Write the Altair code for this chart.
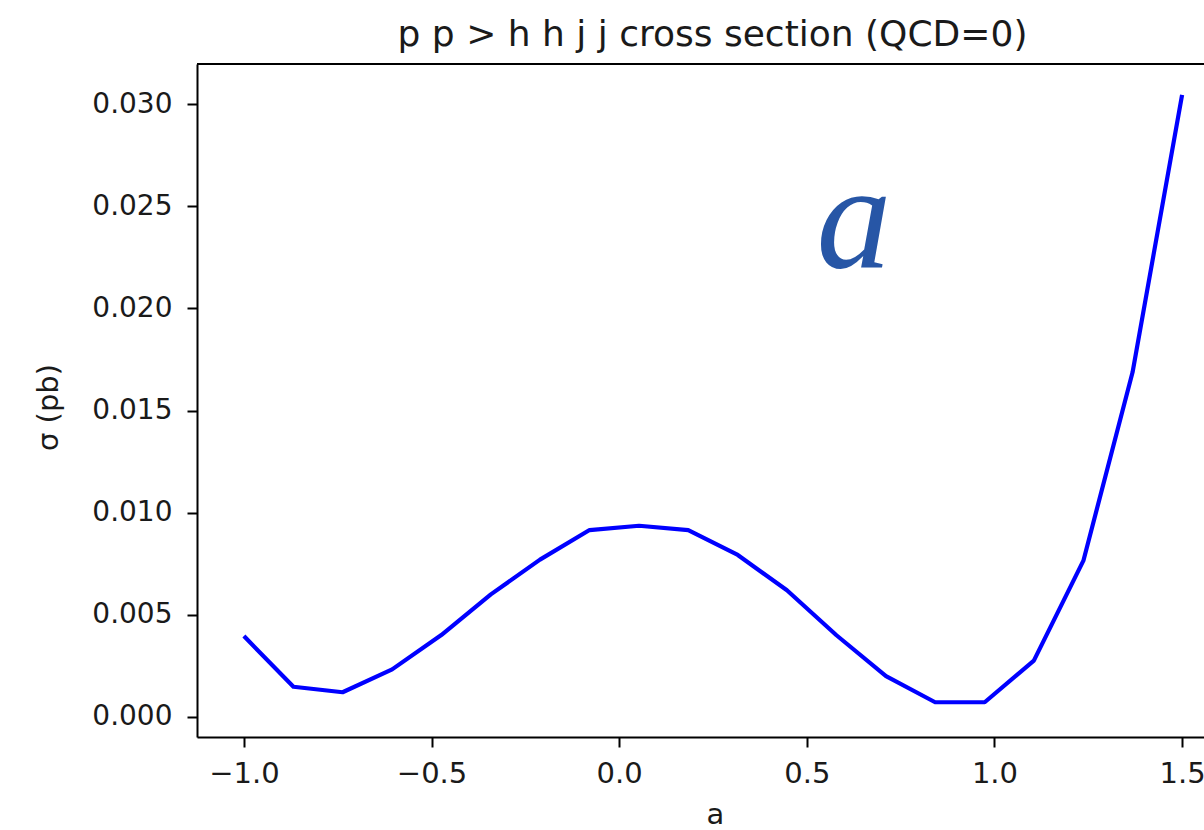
import altair as alt
import pandas as pd

# data
a_values = [-1.0, -0.868, -0.737, -0.605, -0.474, -0.342, -0.211, -0.079,
            0.053, 0.184, 0.316, 0.447, 0.579, 0.711, 0.842, 0.974,
            1.105, 1.237, 1.368, 1.5]
sigma_pb = [0.00396, 0.00148, 0.00121, 0.00233, 0.00401, 0.0060, 0.0077, 0.00915,
            0.00936, 0.00915, 0.00793, 0.0062, 0.0040, 0.0020, 0.00072, 0.00072,
            0.00276, 0.00765, 0.01687, 0.03045]
x_ticks = [-1.0, -0.5, 0.0, 0.5, 1.0, 1.5]
y_ticks = [0.0, 0.005, 0.010, 0.015, 0.020, 0.025, 0.030]

df = pd.DataFrame({"a": a_values, "sigma": sigma_pb})

W, H = 1007, 673
PX_PER_UNIT = 1032 / 2.75
x_domain = [-1.125, -1.125 + W / PX_PER_UNIT]
y_domain = [-0.00098, 0.03196]

FONT = "DejaVu Sans"
TXT = "#1a1a1a"

line = alt.Chart(df).mark_line(color="#0000ff", strokeWidth=4.2, strokeJoin="round").encode(
    x=alt.X("a:Q",
            scale=alt.Scale(domain=x_domain, nice=False, zero=False),
            axis=alt.Axis(values=x_ticks, format=".1f", grid=False,
                          title="a", titleX=518, titleY=86, titleAlign="center",
                          titleBaseline="alphabetic",
                          titleFont=FONT, titleFontSize=29, titleFontWeight="normal",
                          titleColor=TXT,
                          labelFont=FONT, labelFontSize=29, labelColor=TXT,
                          labelPadding=12, tickSize=10, tickWidth=2, tickColor="black",
                          domainColor="black", domainWidth=2, labelFlush=False,
                          labelOverlap=False)),
    y=alt.Y("sigma:Q",
            scale=alt.Scale(domain=y_domain, nice=False, zero=False),
            axis=alt.Axis(values=y_ticks, format=".3f", grid=False,
                          title="σ (pb)", titleX=-149, titleY=343, titleAngle=270,
                          titleAlign="center", titleBaseline="middle",
                          titleFont=FONT, titleFontSize=29, titleFontWeight="normal",
                          titleColor=TXT,
                          labelFont=FONT, labelFontSize=28, labelColor=TXT,
                          labelPadding=15, tickSize=10, tickWidth=2, tickColor="black",
                          domainColor="black", domainWidth=2, labelFlush=False,
                          labelOverlap=False)),
)

top_spine = alt.Chart(df).mark_rule(color="black", strokeWidth=2).encode(
    x=alt.value(0), x2=alt.value(W), y=alt.value(0)
)

annot = alt.Chart(pd.DataFrame({"t": ["a"]})).mark_text(
    font="Liberation Serif", fontStyle="italic", fontSize=150,
    color="#2756A6", align="center", baseline="alphabetic"
).encode(text="t:N", x=alt.value(657), y=alt.value(203))

chart = alt.layer(line, top_spine, annot).properties(
    width=W, height=H,
    title=alt.TitleParams("p p > h h j j cross section (QCD=0)", anchor="middle",
                          frame="group", dx=12, dy=38, offset=19, baseline="alphabetic",
                          font=FONT, fontSize=36, fontWeight="normal", color=TXT),
    autosize=alt.AutoSizeParams(type="none"),
    padding={"left": 197, "top": 64, "right": 0, "bottom": 93},
).configure_view(stroke=None).configure(background="white")

chart.save("out.html", embed_options={"renderer": "svg", "actions": False})
